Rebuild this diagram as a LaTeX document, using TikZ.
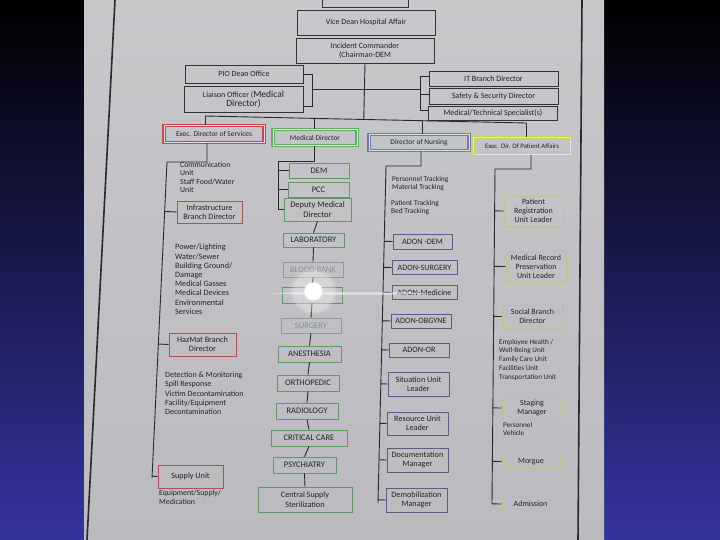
\documentclass[tikz,border=0pt]{standalone}
\usepackage{fontspec}
\setmainfont{Carlito}
\usetikzlibrary{calc,fadings}
\definecolor{ink}{RGB}{35,35,40}
\definecolor{faded}{RGB}{140,142,146}
\definecolor{boxk}{RGB}{50,50,55}
\definecolor{linec}{RGB}{40,40,45}
\definecolor{hred}{RGB}{200,70,75}
\definecolor{hgrn}{RGB}{100,170,100}
\definecolor{hblu}{RGB}{110,125,175}
\definecolor{hyel}{RGB}{205,212,85}
\definecolor{hgap}{RGB}{225,225,228}
\definecolor{sred}{RGB}{175,80,85}
\definecolor{sgrn}{RGB}{100,150,105}
\definecolor{sgrnf}{RGB}{140,160,145}
\definecolor{sblu}{RGB}{85,95,130}
\definecolor{syel}{RGB}{192,196,140}
\definecolor{papertop}{RGB}{200,200,203}
\definecolor{paperbot}{RGB}{186,186,191}
\definecolor{slidebot}{RGB}{52,52,158}
\tikzset{
  kbx/.style={draw=boxk, line width=0.9pt, inner sep=1pt, align=center, text=ink,
    font=\fontsize{8}{9}\selectfont},
  hd/.style={kbx, line width=1.2pt, double=hgap, double distance=1pt,
    font=\fontsize{7.4}{8.4}\selectfont},
  sbx/.style={kbx, line width=0.8pt, font=\fontsize{8.2}{9.2}\selectfont},
  rbx/.style={sbx, draw=sred},
  gbx/.style={sbx, draw=sgrn, font=\fontsize{8.5}{9.4}\selectfont},
  gfx/.style={gbx, draw=sgrnf, text=faded},
  bbx/.style={sbx, draw=sblu},
  ybx/.style={sbx, draw=syel, font=\fontsize{8}{8.8}\selectfont},
  lst/.style={anchor=north west, align=left, inner sep=0pt, text=ink},
  ln/.style={draw=linec, line width=0.9pt}
}
\begin{document}
\begin{tikzpicture}[x=1pt,y=-1pt]
\useasboundingbox (0,0) rectangle (720,540);
% slide and photographed paper
\shade[top color=black, bottom color=slidebot] (0,0) rectangle (720,540);
\shade[top color=papertop, bottom color=paperbot] (84,0) rectangle (604,540);
\draw[linec, line width=1.6pt] (115,0) -- (87,540);
\draw[linec, line width=1.6pt] (582,0) -- (578,540);

% top level
\node[kbx, minimum width=86, minimum height=14] (top) at (365,0) {};
\node[kbx, minimum width=138, minimum height=25] (vd) at (366,22.5) {Vice Dean Hospital Affair};
\node[kbx, minimum width=138, minimum height=25] (ic) at (365,50.5) {Incident Commander\\(Chairman-DEM};
\node[kbx, minimum width=118, minimum height=18] (pio) at (244,74) {PIO Dean Office};
\node[kbx, minimum width=119, minimum height=26] (lia) at (243.5,99)
  {Liaison Officer ({\fontsize{9.5}{10}\selectfont Medical}\\{\fontsize{9.5}{10}\selectfont Director)}};
\node[kbx, minimum width=129, minimum height=15] (it) at (493.5,78.5) {IT Branch Director};
\node[kbx, minimum width=129, minimum height=16] (saf) at (493.5,96) {Safety \& Security Director};
\node[kbx, minimum width=129, minimum height=14] (mts) at (493,113) {Medical/Technical Specialist(s)};

% brackets and bus
\coordinate (lbm) at (312,89);
\coordinate (rbm) at (420,89);
\draw[ln] (pio.east) -- (pio.east -| lbm) -- ([yshift=-7pt]lia.east -| lbm) -- ([yshift=-7pt]lia.east);
\draw[ln] (lbm) -- (rbm);
\draw[ln] ([yshift=2pt]it.west) -- ([yshift=2pt]it.west -| rbm) -- ([yshift=3pt]mts.west -| rbm) -- ([yshift=3pt]mts.west);
\draw[ln] ([yshift=2pt]saf.west) -- ([yshift=2pt]saf.west -| rbm);

\node[hd, draw=hred, minimum width=100, minimum height=17] (ed) at (214,134) {Exec. Director of Services};
\node[hd, draw=hgrn, minimum width=84, minimum height=16] (md) at (315,137.5) {Medical Director};
\node[hd, draw=hblu, minimum width=100, minimum height=16] (dn) at (419,142.5) {Director of Nursing};
\node[hd, draw=hyel, minimum width=97, minimum height=17, font=\fontsize{6.8}{7.8}\selectfont] (pa) at (522,146) {Exec. Dir. Of Patient Affairs};

\coordinate (busL) at (205,116);
\coordinate (b2) at (314,118.4);
\coordinate (b3) at (422,120.7);
\coordinate (busR) at (526,123);
\draw[ln] (busL) -- (b2) -- (b3) -- (busR);
\draw[ln] (ic.south) -- ($(busL)!(ic.south)!(busR)$);
\draw[ln] (busL) -- (busL |- ed.north);
\draw[ln] (b2) -- (b2 |- md.north);
\draw[ln] (b3) -- (b3 |- dn.north);
\draw[ln] (busR) -- (busR |- pa.north);

% ---------- services column (red)
\coordinate (rs1) at (167,162);
\coordinate (rs2) at (152,478);
\draw[ln] ([xshift=-7pt]ed.south) |- (rs1) -- (rs2);
\node[lst, font=\fontsize{7.8}{8.3}\selectfont] (t1) at (180,162)
  {Communication\\Unit\\Staff Food/Water\\Unit};
\node[rbx, minimum width=65, minimum height=22] (inf) at (209.5,212) {Infrastructure\\Branch Director};
\node[lst, font=\fontsize{8.2}{9.2}\selectfont] (t2) at (175,244)
  {Power/Lighting\\Water/Sewer\\Building Ground/\\Damage\\Medical Gasses\\Medical Devices\\Environmental\\Services};
\node[rbx, minimum width=67, minimum height=23] (hz) at (202.5,344.5) {HazMat Branch\\Director};
\node[lst, font=\fontsize{8}{9.2}\selectfont] (t3) at (165,372)
  {Detection \& Monitoring\\Spill Response\\Victim Decontamination\\Facility/Equipment\\Decontamination};
\node[rbx, minimum width=65, minimum height=23] (sup) at (190.5,476.5) {Supply Unit};
\node[lst, font=\fontsize{7.8}{8.6}\selectfont] (t4) at (159,490) {Equipment/Supply/\\Medication};
\foreach \b in {inf,hz,sup}{\draw[ln] (\b.west) -- ($(rs1)!(\b.west)!(rs2)$);}

% ---------- medical director column (green)
\coordinate (gs1) at (278,161);
\coordinate (gs2) at (278,209);
\draw[ln] ([xshift=-1pt]md.south) |- (gs1) -- (gs2);
\node[gbx, minimum width=60, minimum height=15] (dem) at (319,170.5) {DEM};
\node[gbx, minimum width=61, minimum height=15] (pcc) at (318.5,189.5) {PCC};
\node[gbx, minimum width=67, minimum height=23] (dep) at (317.5,209.5) {Deputy Medical\\Director};
\foreach \b in {dem,pcc,dep}{\draw[ln] (\b.west) -- (\b.west -| gs1);}
\node[gbx, minimum width=61, minimum height=14] (lab) at (313.5,240) {LABORATORY};
\node[gfx, minimum width=60, minimum height=15] (bb) at (313,269.5) {BLOOD BANK};
\node[gbx, minimum width=60, minimum height=16] (gl) at (312,295) {};
\node[gfx, minimum width=60, minimum height=15] (surg) at (311,325.5) {SURGERY};
\node[gbx, minimum width=63, minimum height=16] (anes) at (309.5,354) {ANESTHESIA};
\node[gbx, minimum width=62, minimum height=16] (orth) at (308,383) {ORTHOPEDIC};
\node[gbx, minimum width=62, minimum height=16] (rad) at (307,411) {RADIOLOGY};
\node[gbx, minimum width=76, minimum height=16] (cc) at (309,438) {CRITICAL CARE};
\node[gbx, minimum width=63, minimum height=16] (psy) at (304.5,465) {PSYCHIATRY};
\node[gbx, minimum width=94, minimum height=25, font=\fontsize{8.2}{9.4}\selectfont] (css) at (305,499.5) {Central Supply\\Sterilization};
\foreach \a/\b in {dep/lab,lab/bb,bb/gl,gl/surg,surg/anes,anes/orth,orth/rad,rad/cc,cc/psy,psy/css}
  {\draw[ln] (\a.south) -- (\b.north);}

% ---------- nursing column (blue)
\coordinate (bs1) at (386,166);
\coordinate (bs2) at (378,503);
\draw[ln] ([xshift=2pt]dn.south) |- (bs1) -- (bs2);
\node[lst, font=\fontsize{7.4}{8}\selectfont] (t5) at (392,176) {Personnel Tracking\\Material Tracking};
\node[lst, font=\fontsize{7.4}{8}\selectfont] (t6) at (391,200) {Patient Tracking\\Bed Tracking};
\node[bbx, minimum width=59, minimum height=15] (a1) at (422.5,241.5) {ADON -DEM};
\node[bbx, minimum width=65, minimum height=14] (a2) at (424.5,267.5) {ADON-SURGERY};
\node[bbx, minimum width=65, minimum height=14] (a3) at (424.5,292.5) {ADON-Medicine};
\node[bbx, minimum width=60, minimum height=14] (a4) at (421,321) {ADON-OBGYNE};
\node[bbx, minimum width=60, minimum height=14] (a5) at (419,350) {ADON-OR};
\node[bbx, minimum width=61, minimum height=24] (a6) at (418.5,384) {Situation Unit\\Leader};
\node[bbx, minimum width=61, minimum height=23] (a7) at (417.5,423.5) {Resource Unit\\Leader};
\node[bbx, minimum width=61, minimum height=24] (a8) at (417.5,460) {Documentation\\Manager};
\node[bbx, minimum width=61, minimum height=24] (a9) at (416.5,500) {Demobilization\\Manager};
\foreach \b in {a1,a2,a3,a4,a5,a6,a7,a8,a9}{\draw[ln] (\b.west) -- ($(bs1)!(\b.west)!(bs2)$);}

% ---------- patient affairs column (yellow)
\coordinate (ys1) at (495,169);
\coordinate (ys2) at (492,504);
\draw[ln] ([xshift=9pt]pa.south) |- (ys1) -- (ys2);
\node[ybx, minimum width=59, minimum height=30] (p1) at (533.5,211) {Patient\\Registration\\Unit Leader};
\node[ybx, minimum width=60, minimum height=31] (p2) at (536,266.5) {Medical Record\\Preservation\\Unit Leader};
\node[ybx, minimum width=61, minimum height=23] (p3) at (532.5,316.5) {Social Branch\\Director};
\node[lst, font=\fontsize{7.2}{8.7}\selectfont] (t7) at (499,339)
  {Employee Health /\\Well-Being Unit\\Family Care Unit\\Facilities Unit\\Transportation Unit};
\node[ybx, minimum width=60, minimum height=22] (p4) at (532,408) {Staging\\Manager};
\node[lst, font=\fontsize{7.2}{8}\selectfont] (t8) at (503,422) {Personnel\\Vehicle};
\node[ybx, minimum width=58, minimum height=13] (p5) at (531,461.5) {Morgue};
\node[ybx, minimum width=57, minimum height=14] (p6) at (530.5,504) {Admission};
\foreach \b in {p1,p2,p3,p4,p5,p6}{\draw[ln] (\b.west) -- ($(ys1)!(\b.west)!(ys2)$);}

% glare of the photograph
\fill[white, opacity=0.35, path fading=circle with fuzzy edge 20 percent] (313,291) circle (24);
\fill[white, path fading=circle with fuzzy edge 20 percent] (313,291) circle (10);
\fill[white, opacity=0.45, path fading=circle with fuzzy edge 20 percent] (350,293) ellipse (85 and 2);
\end{tikzpicture}
\end{document}
